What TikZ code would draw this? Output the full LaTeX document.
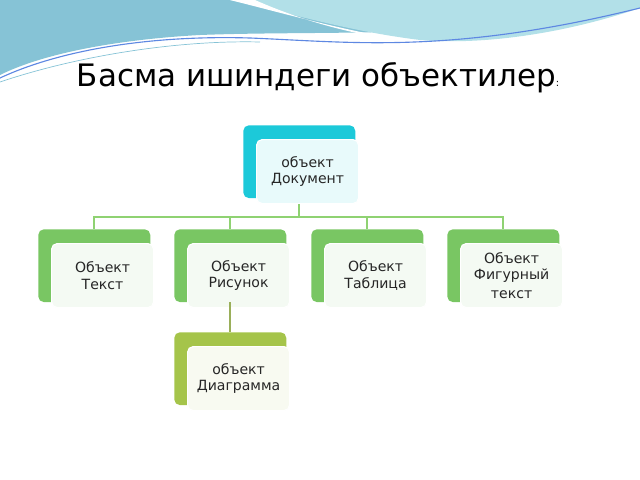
\documentclass[tikz,border=0pt]{standalone}
\usepackage{fontspec}
\setmainfont{DejaVu Sans}
\usetikzlibrary{positioning, calc}
\definecolor{teal1}{HTML}{1CC9D9}
\definecolor{grn1}{HTML}{79C663}
\definecolor{grn2}{HTML}{A5C44A}
\definecolor{lnk}{HTML}{8FD272}
\definecolor{wave1}{HTML}{86C3D6}
\definecolor{wave2}{HTML}{B2E0E8}

\begin{document}
\begin{tikzpicture}[x=0.025cm, y=-0.025cm,
  backbox/.style={rounded corners=4pt, minimum width=2.8cm, minimum height=1.82cm, inner sep=0pt, anchor=north west},
  frontbox/.style={rounded corners=4pt, draw=white, line width=0.8pt, minimum width=2.55cm, minimum height=1.6cm, inner sep=0pt, anchor=north west, align=center, text=black!85, font=\fontsize{10}{11.5}\selectfont},
  link/.style={draw=lnk, line width=1.2pt},
]
  \useasboundingbox (0,0) rectangle (640,480);
  % waves
  \fill[wave1] (0,0) -- (640,0) -- (640,5) .. controls (480,40) and (330,30) .. (200,35) .. controls (110,40) and (40,55) .. (0,75) -- cycle;
  \fill[wave2] (230,0) -- (640,0) -- (640,8) .. controls (560,35) and (480,45) .. (420,40) .. controls (340,30) and (280,10) .. (230,0) -- cycle;
  \fill[white] (230,0) .. controls (290,15) and (360,35) .. (420,42) .. controls (360,38) and (300,20) .. (255,0) -- cycle;
  \draw[wave1!70!blue, line width=0.8pt] (0,78) .. controls (60,50) and (150,35) .. (250,38) .. controls (350,42) and (450,55) .. (640,8);
  \draw[wave1, line width=0.5pt] (0,82) .. controls (80,55) and (180,40) .. (260,42);
  % title
  \node[font=\fontsize{22}{26}\selectfont] (title) at (318,78) {Басма ишиндеги объектилер\raisebox{0pt}{\fontsize{7}{8}\selectfont:}};
  % boxes
  \node[backbox, fill=teal1] (docB) at (243,125) {};
  \node[frontbox, fill=teal1!10] (doc) at (256,139) {объект\\Документ};
  \foreach \nm/\x/\txt in {txt/38/{Объект\\Текст}, pic/174/{Объект\\Рисунок}, tab/311/{Объект\\Таблица}, fig/447/{Объект\\Фигурный\\[2pt] текст}} {
    \node[backbox, fill=grn1] (\nm B) at (\x,229) {};
    \node[frontbox, fill=grn1!8] (\nm) at (\x+13,243) {\txt};
  }
  \node[backbox, fill=grn2] (diaB) at (174,332) {};
  \node[frontbox, fill=grn2!8] (dia) at (187,346) {объект\\Диаграмма};
  % links
  \coordinate (bus) at (299,217);
  \draw[link] (doc.south -| bus) -- (bus);
  \draw[link] (txtB.north) |- (bus) -| (figB.north);
  \draw[link] (picB.north) -- (picB.north |- bus);
  \draw[link] (tabB.north) -- (tabB.north |- bus);
  \draw[draw=grn2!70!gray, line width=1.2pt] (picB.south) -- (diaB.north);
\end{tikzpicture}
\end{document}
